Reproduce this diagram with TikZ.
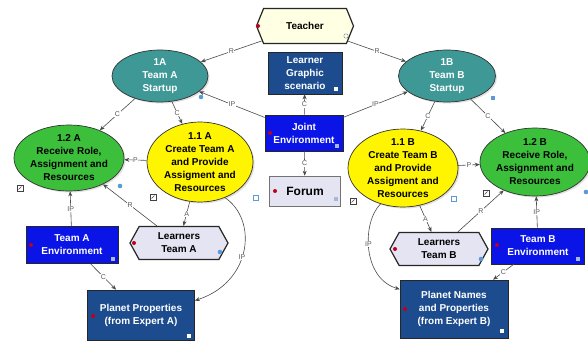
\documentclass[tikz,border=0pt]{standalone}
\usepackage{fontspec}
\setmainfont{Liberation Sans}
\usetikzlibrary{shapes.geometric,shapes.symbols,arrows.meta,shadows}

\definecolor{tealfill}{HTML}{3E9896}
\definecolor{greenfill}{HTML}{3CC03C}
\definecolor{yellowfill}{HTML}{FFF500}
\definecolor{navyfill}{HTML}{1C4C8E}
\definecolor{bluefill}{HTML}{0A14E6}
\definecolor{lavfill}{HTML}{E4E4F2}
\definecolor{creamfill}{HTML}{FFFFE4}
\definecolor{linkgray}{HTML}{4A4A4A}
\definecolor{portred}{HTML}{C0001A}
\definecolor{portblue}{HTML}{5A9AD8}
\definecolor{tagblue}{HTML}{A8B8D8}

\tikzset{
  txt/.style={font=\bfseries\fontsize{10}{13}\selectfont, align=center},
  oval/.style={txt, ellipse, draw=black!80, line width=0.7pt, inner xsep=0pt, inner ysep=-6pt,
               drop shadow={shadow xshift=1.5pt, shadow yshift=-1.5pt, opacity=0.25}},
  box/.style={txt, rectangle, draw=black!85, line width=0.6pt, text=white, inner sep=1pt},
  hexa/.style={txt, signal, signal to=west and east, draw=black!85, line width=1.2pt, inner sep=1pt},
  link/.style={draw=linkgray, line width=0.6pt, -{Stealth[length=5pt,width=4pt]}},
  lbl/.style={font=\fontsize{7}{7}\selectfont, text=black!65, fill=white, inner sep=0.6pt},
  icon/.style={draw=black!75, fill=white, line width=0.5pt},
}

\begin{document}
\begin{tikzpicture}[x=1pt,y=-1pt]
\fill[white] (0,0) rectangle (588,343);
\useasboundingbox (0,0) rectangle (588,343);

% central column
\node[hexa, fill=creamfill, signal pointer angle=136, minimum width=97pt, minimum height=35pt] (teacher) at (305,26) {Teacher};
\node[box, fill=navyfill, minimum width=74pt, minimum height=42pt] (lgs) at (305,73) {Learner\\Graphic\\scenario};
\node[box, fill=bluefill, minimum width=78pt, minimum height=36pt] (joint) at (304,133) {Joint\\Environment};
\node[box, fill=lavfill, draw=black!55, text=black, font=\bfseries\fontsize{12}{14}\selectfont, minimum width=71pt, minimum height=30pt] (forum) at (305,191) {Forum};

% team A
\node[oval, fill=tealfill, text=white, minimum width=96pt, minimum height=52pt] (t1a) at (160,76) {1A\\Team A\\Startup};
\node[oval, fill=greenfill, minimum width=109pt, minimum height=66pt] (t12a) at (69,158) {1.2 A\\Receive Role,\\Assignment and\\Resources};
\node[oval, fill=yellowfill, minimum width=106pt, minimum height=80pt] (t11a) at (200,162) {1.1 A\\Create Team A\\and Provide\\Assigment and\\Resources};
\node[box, fill=bluefill, minimum width=92pt, minimum height=37pt] (enva) at (72,245) {Team A\\Environment};
\node[hexa, fill=lavfill, signal pointer angle=122, minimum width=98pt, minimum height=33pt] (learna) at (179,243) {Learners\\Team A};
\node[box, fill=navyfill, minimum width=107pt, minimum height=50pt] (planeta) at (141,315) {Planet Properties\\(from Expert A)};

% team B
\node[oval, fill=tealfill, text=white, minimum width=97pt, minimum height=52pt] (t1b) at (447,76) {1B\\Team B\\Startup};
\node[oval, fill=yellowfill, minimum width=110pt, minimum height=78pt] (t11b) at (403,168) {1.1 B\\Create Team B\\and Provide\\Assigment and\\Resources};
\node[oval, fill=greenfill, minimum width=108pt, minimum height=68pt] (t12b) at (535,162) {1.2 B\\Receive Role,\\Assignment and\\Resources};
\node[hexa, fill=lavfill, signal pointer angle=122, minimum width=98pt, minimum height=33pt] (learnb) at (439,249) {Learners\\Team B};
\node[box, fill=bluefill, minimum width=93pt, minimum height=36pt] (envb) at (538,246) {Team B\\Environment};
\node[box, fill=navyfill, minimum width=108pt, minimum height=58pt] (planetb) at (454,309) {Planet Names\\and Properties\\(from Expert B)};

% links
\draw[link] (teacher) -- node[lbl]{R} (t1a);
\draw[link] (teacher) -- node[lbl]{R} (t1b);
\draw[link] (joint) -- node[lbl]{IP} (t1a);
\draw[link] (joint) -- node[lbl]{IP} (t1b);
\draw[link] (joint) -- node[lbl]{C} (lgs);
\draw[link] (joint) -- node[lbl]{C} (forum);

\draw[link] (t1a) -- node[lbl]{C} (t12a);
\draw[link] (t1a) -- node[lbl]{C} (t11a);
\draw[link] (t11a) -- node[lbl]{P} (t12a);
\draw[link] (enva) -- node[lbl]{IP} (t12a);
\draw[link] (learna) -- node[lbl]{R} (t12a);
\draw[link] (t11a) -- node[lbl]{A} (learna);
\draw[link] (enva) -- node[lbl]{C} (planeta);
\draw[link] (t11a.-55) .. controls (258,220) and (252,282) .. node[lbl, pos=0.55]{IP} (planeta.15);

\draw[link] (t1b) -- node[lbl]{C} (t11b);
\draw[link] (t1b) -- node[lbl]{C} (t12b);
\draw[link] (t11b) -- node[lbl]{P} (t12b);
\draw[link] (envb) -- node[lbl]{IP} (t12b);
\draw[link] (learnb) -- node[lbl]{R} (t12b);
\draw[link] (t11b) -- node[lbl]{A} (learnb);
\draw[link] (envb) -- node[lbl]{C} (planetb);
\draw[link] (t11b.-122) .. controls (362,222) and (362,278) .. node[lbl, pos=0.45]{IP} (planetb.160);

% red ports on the left of the objects
\foreach \p in {(258,26),(270,133),(275,191),(31,245),(134,243),(497,245),(395,249),(93,316),(405,309)}
  \fill[portred] \p circle (2pt);

% blue ports
\foreach \p in {(201,97),(120,186),(220,252),(481,259),(586,192)}
  \fill[portblue] \p circle (2.3pt);
\fill[portblue] (491,96) rectangle (495,100);

% small corner tags
\foreach \p in {(334,87),(187,334),(500,329)}
  \fill[white] \p rectangle ++(4,4);
\foreach \p in {(335,144),(111,257),(576,257),(334,197)}
  \fill[tagblue] \p rectangle ++(4,4);
\draw[black!50, fill=white] (346,36) circle (2.2pt);
\draw[portblue, line width=0.6pt] (253,195) rectangle ++(5,5);
\draw[portblue, line width=0.6pt] (451,196) rectangle ++(5,5);

% link handles
\foreach \p in {(17,185),(150,194),(350,198),(483,190)} {
  \draw[icon] \p rectangle ++(6,6);
  \draw[black!75, line width=0.5pt] \p ++(1.5,4.5) -- ++(3,-3);
}
\end{tikzpicture}
\end{document}
